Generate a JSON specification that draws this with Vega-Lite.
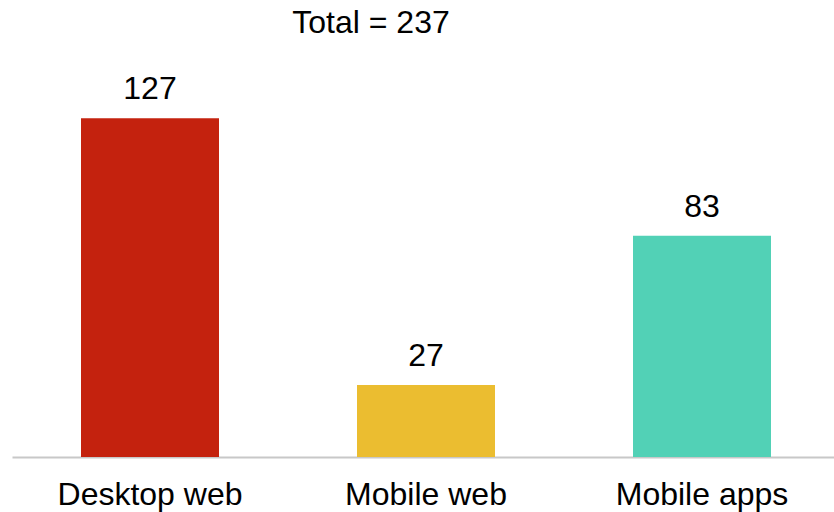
{
  "$schema": "https://vega.github.io/schema/vega-lite/v6.json",
  "autosize": "none",
  "padding": {"left": 12, "top": 57, "right": 0, "bottom": 55},
  "width": 828,
  "height": 400,
  "title": {"text": "Total = 237", "font": "Liberation Sans", "fontSize": 32, "fontWeight": "normal", "color": "#000000", "anchor": "middle", "dx": -55, "offset": -15, "baseline": "bottom"},
  "data": {"values": [
    {"category": "Desktop web", "value": 127},
    {"category": "Mobile web", "value": 27},
    {"category": "Mobile apps", "value": 83}
  ]},
  "config": {"view": {"stroke": null}, "font": "Liberation Sans"},
  "encoding": {
    "x": {"field": "category", "type": "nominal", "sort": null,
      "scale": {"paddingInner": 0.5, "paddingOuter": 0.25},
      "axis": {"title": null, "labelAngle": 0, "ticks": false, "labelFontSize": 32, "labelLimit": 400, "labelColor": "#000000", "labelPadding": 22, "domainColor": "#C8C8C8", "domainWidth": 2, "labelFont": "Liberation Sans"}},
    "y": {"field": "value", "type": "quantitative", "scale": {"domain": [0, 150]}, "axis": null}
  },
  "layer": [
    {"mark": {"type": "bar"},
     "encoding": {"color": {"field": "category", "type": "nominal", "legend": null,
        "scale": {"domain": ["Desktop web", "Mobile web", "Mobile apps"], "range": ["#C4220E", "#EBBD30", "#52D1B6"]}}}},
    {"mark": {"type": "text", "baseline": "alphabetic", "dy": -19, "fontSize": 32, "color": "#000000", "font": "Liberation Sans"},
     "encoding": {"text": {"field": "value", "type": "quantitative"}}}
  ]
}
